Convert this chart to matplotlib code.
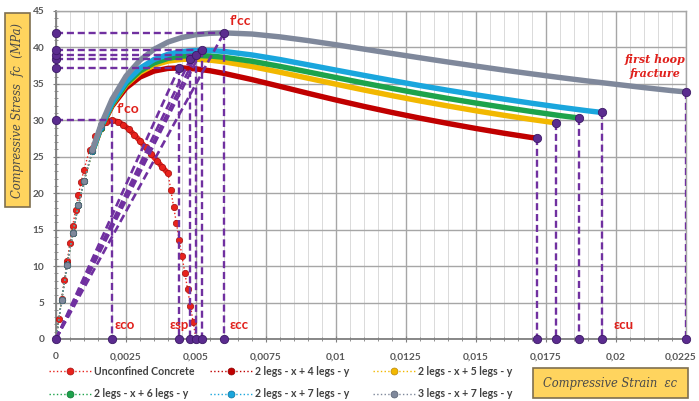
import matplotlib
matplotlib.use("Agg")
import matplotlib.pyplot as plt
from matplotlib.patches import Rectangle
from matplotlib.lines import Line2D
from matplotlib.ticker import MultipleLocator, FixedLocator
from matplotlib.transforms import ScaledTranslation

# ---------------- data ----------------
strain_grid = [0, 0.0002, 0.0004, 0.0006, 0.0008, 0.001, 0.0013, 0.0016, 0.002,
               0.0025, 0.003, 0.0035, 0.004, 0.0045, 0.005, 0.0055, 0.006,
               0.007, 0.008, 0.009, 0.010, 0.011, 0.012, 0.013, 0.014, 0.015,
               0.016, 0.017, 0.018, 0.019, 0.020, 0.021, 0.022]

series_names = ["2 legs - x + 4 legs - y", "2 legs - x + 5 legs - y",
                "2 legs - x + 6 legs - y", "2 legs - x + 7 legs - y",
                "3 legs - x + 7 legs - y"]

stress_4y = [0, 5.34, 10.24, 14.61, 18.42, 21.70, 25.74, 28.88, 31.94, 34.44,
             35.94, 36.76, 37.13, 37.19, 37.06, 36.80, 36.44, 35.59, 34.66,
             33.71, 32.79, 31.91, 31.08, 30.30, 29.57, 28.88, 28.23, 27.63, 27.55]
stress_5y = [0, 5.33, 10.21, 14.56, 18.37, 21.66, 25.74, 28.96, 32.15, 34.86,
             36.56, 37.58, 38.13, 38.37, 38.39, 38.26, 38.03, 37.38, 36.60,
             35.78, 34.96, 34.16, 33.39, 32.66, 31.97, 31.31, 30.69, 30.11, 29.65]
stress_6y = [0, 5.33, 10.20, 14.54, 18.34, 21.63, 25.73, 28.96, 32.21, 34.98,
             36.77, 37.87, 38.50, 38.81, 38.90, 38.83, 38.65, 38.10, 37.40,
             36.64, 35.87, 35.11, 34.38, 33.67, 33.00, 32.37, 31.77, 31.20,
             30.65, 30.32]
stress_7y = [0, 5.33, 10.20, 14.54, 18.35, 21.66, 25.79, 29.07, 32.39, 35.27,
             37.15, 38.34, 39.05, 39.44, 39.59, 39.58, 39.45, 38.97, 38.34,
             37.62, 36.89, 36.17, 35.46, 34.77, 34.12, 33.50, 32.91, 32.34,
             31.80, 31.30, 31.08]
stress_3x7y = [0, 5.32, 10.17, 14.51, 18.34, 21.69, 25.93, 29.34, 32.88, 36.07,
               38.25, 39.74, 40.74, 41.37, 41.75, 41.94, 42.00, 41.84, 41.45,
               40.94, 40.37, 39.77, 39.17, 38.58, 38.00, 37.44, 36.89, 36.37,
               35.87, 35.39, 34.94, 34.49, 34.07, 33.90]

strain_unc = [0, 0.0001, 0.0002, 0.0003, 0.0004, 0.0005, 0.0006, 0.0007, 0.0008,
              0.0009, 0.001, 0.0012, 0.0014, 0.0016, 0.0018, 0.002, 0.0022,
              0.0024, 0.0026, 0.0028, 0.003, 0.0032, 0.0034, 0.0036, 0.0038,
              0.004, 0.0041, 0.0042, 0.0043, 0.0044, 0.0045, 0.0046, 0.0047,
              0.0048, 0.0049, 0.005]
stress_unc = [0, 2.74, 5.45, 8.12, 10.70, 13.19, 15.54, 17.73, 19.76, 21.60,
              23.24, 25.94, 27.88, 29.13, 29.80, 30.00, 29.83, 29.40, 28.77,
              28.01, 27.17, 26.28, 25.38, 24.47, 23.58, 22.71, 20.44, 18.17,
              15.90, 13.63, 11.36, 9.08, 6.81, 4.54, 2.27, 0]

eps_co, f_co = 0.002, 30.0
peak_strain = [0.00439, 0.0048, 0.0050, 0.0052, 0.0060]
peak_stress = [37.2, 38.4, 38.9, 39.6, 42.0]
ult_strain = [0.01718, 0.01785, 0.01868, 0.01949, 0.0225]
ult_stress = [27.55, 29.65, 30.32, 31.08, 33.90]

x_ticks = [0, 0.0025, 0.005, 0.0075, 0.01, 0.0125, 0.015, 0.0175, 0.02, 0.0225]
x_ticklabels = ["0", "0,0025", "0,005", "0,0075", "0,01", "0,0125", "0,015",
                "0,0175", "0,02", "0,0225"]
y_ticks = [0, 5, 10, 15, 20, 25, 30, 35, 40, 45]

# ---------------- style ----------------
colors = ["#C00000", "#F2B800", "#1DA34B", "#1AA6DD", "#7F889B"]
edges = ["#8B0000", "#B8860B", "#0F6E30", "#0E6F98", "#555D6E"]
unc_color, unc_edge = "#E8221C", "#A31010"
purple, purple_mk, purple_edge = "#7030A0", "#5B2C8F", "#3C1A66"
txt_red = "#E0201B"
tick_col = "#595959"
font_main = ["Lato", "DejaVu Sans"]
dash = (0, (3, 1.6))

fig = plt.figure(figsize=(6.99, 4.01), dpi=100)
ax = fig.add_axes([56 / 699, 1 - 339 / 401, 630 / 699, 328 / 401])
ax.set_xlim(0, 0.0225)
ax.set_ylim(0, 45)

# grid
ax.xaxis.set_major_locator(FixedLocator(x_ticks))
ax.xaxis.set_minor_locator(MultipleLocator(0.0005))
ax.yaxis.set_major_locator(FixedLocator(y_ticks))
ax.yaxis.set_minor_locator(MultipleLocator(1))
ax.grid(which="major", color="#A6A6A6", lw=1.0)
ax.grid(which="minor", axis="x", color="#DADADA", lw=0.7)
ax.set_axisbelow(True)
ax.set_xticklabels(x_ticklabels)
for sp in ["top", "right"]:
    ax.spines[sp].set_color("#A6A6A6")
    ax.spines[sp].set_linewidth(1.0)
for sp in ["left", "bottom"]:
    ax.spines[sp].set_color("#7F7F7F")
    ax.spines[sp].set_linewidth(1.3)
ax.tick_params(which="major", direction="inout", length=5, color="#7F7F7F",
               labelsize=7.3, labelcolor=tick_col, pad=6)
ax.tick_params(which="minor", direction="inout", length=3, color="#7F7F7F")
ax.tick_params(axis="x", pad=7)
for lab in ax.get_xticklabels() + ax.get_yticklabels():
    lab.set_fontfamily(font_main)
    lab.set_fontweight("bold")
last = ax.get_xticklabels()[-1]
last.set_transform(last.get_transform() + ScaledTranslation(-4 / 72, 0, fig.dpi_scale_trans))

# unconfined concrete
ax.plot(strain_unc, stress_unc, ls=":", lw=1.0, color=unc_color, zorder=3)
ax.plot(strain_unc[13:26], stress_unc[13:26], ls="-", lw=3.9, color=unc_color,
        solid_capstyle="round", zorder=3)
ax.plot(strain_unc[:-1], stress_unc[:-1], ls="none", marker="o", ms=4.6,
        mfc=unc_color, mec=unc_edge, mew=0.5, zorder=3)

# confined curves
stress_series = [stress_4y, stress_5y, stress_6y, stress_7y, stress_3x7y]
for i, (ys, c, ec, eu) in enumerate(zip(stress_series, colors, edges, ult_strain)):
    xs = [s for s in strain_grid if s < eu] + [eu]
    z = 4 + i
    ax.plot(xs[:8], ys[:8], ls=":", lw=1.0, color=c, zorder=z)
    ax.plot(xs[:8], ys[:8], ls="none", marker="o", ms=4.6, mfc=c, mec=ec,
            mew=0.5, zorder=z)
    ax.plot(xs[6:], ys[6:], ls="-", lw=3.9, color=c, solid_capstyle="round",
            solid_joinstyle="round", zorder=z)

# purple construction lines
def pmark(x, y):
    ax.plot([x], [y], ls="none", marker="o", ms=6, mfc=purple_mk,
            mec=purple_edge, mew=0.6, zorder=12, clip_on=False)

lw_d = 1.7
ax.plot([0, eps_co], [f_co, f_co], ls=dash, color=purple, lw=lw_d, zorder=10)
ax.plot([eps_co, eps_co], [f_co, 0], ls=dash, color=purple, lw=lw_d, zorder=10)
pmark(0, f_co)
pmark(eps_co, 0)
for e, f in zip(peak_strain, peak_stress):
    ax.plot([0, e], [f, f], ls=dash, color=purple, lw=lw_d, zorder=10)
    ax.plot([e, e], [f, 0], ls=dash, color=purple, lw=lw_d, zorder=10)
    ax.plot([0, e], [0, f], ls=dash, color=purple, lw=lw_d + 0.2, zorder=10)
    pmark(0, f)
    pmark(e, 0)
    pmark(e, f)
for e, f in zip(ult_strain, ult_stress):
    ax.plot([e, e], [f, 0], ls=dash, color=purple, lw=lw_d, zorder=10)
    pmark(e, f)
    pmark(e, 0)
pmark(0, 0)

# annotations
ax.text(0.00218, 31.6, "f'co", color=txt_red, fontsize=10, fontweight="bold",
        family=font_main, va="center", ha="left", zorder=13)
ax.text(0.0062, 43.6, "f'cc", color=txt_red, fontsize=10, fontweight="bold",
        family=font_main, va="center", ha="left", zorder=13)
for xx, s in [(0.0021, "εco"), (0.00405, "εsp"), (0.0062, "εcc"), (0.0199, "εcu")]:
    ax.text(xx, 1.9, s, color=txt_red, fontsize=9.5, fontweight="bold",
            family=font_main, va="center", ha="left", zorder=13)
ax.text(0.0214, 37.4, "first hoop\nfracture", color=txt_red, fontsize=8,
        fontweight="bold", style="italic", family="DejaVu Serif",
        ha="center", va="center", linespacing=1.3, zorder=13)

# axis title boxes
fig.patches.append(Rectangle((5 / 699, 1 - 207 / 401), 25 / 699, 194 / 401,
                             transform=fig.transFigure, fc="#FFD45E",
                             ec="#7F6F4F", lw=1.2))
fig.text(17.5 / 699, 1 - 110 / 401, "Compressive Stress  fc  (MPa)", rotation=90,
         ha="center", va="center", fontsize=8.3, style="italic",
         family="DejaVu Serif", color="#4A4A4A")
fig.patches.append(Rectangle((533 / 699, 1 - 398 / 401), 155 / 699, 30 / 401,
                             transform=fig.transFigure, fc="#FFD45E",
                             ec="#7F6F4F", lw=1.2))
fig.text(610.5 / 699, 1 - 383 / 401, "Compressive Strain  εc",
         ha="center", va="center", fontsize=8.3, style="italic",
         family="DejaVu Serif", color="#4A4A4A")

# legend (three columns)
def handle(c, ec):
    return Line2D([], [], ls=":", lw=1.0, color=c, marker="o", ms=5,
                  mfc=c, mec=ec, mew=0.5)

legend_cols = [
    ([handle(unc_color, unc_edge), handle(colors[2], edges[2])],
     ["Unconfined Concrete", series_names[2]], 49),
    ([handle(colors[0], edges[0]), handle(colors[3], edges[3])],
     [series_names[0], series_names[3]], 210),
    ([handle(colors[1], edges[1]), handle(colors[4], edges[4])],
     [series_names[1], series_names[4]], 373),
]
for hs, ls_, xpix in legend_cols:
    lg = fig.legend(hs, ls_, loc="center left",
                    bbox_to_anchor=(xpix / 699, 1 - 382.5 / 401),
                    frameon=False, borderpad=0, borderaxespad=0,
                    handlelength=4.0, handletextpad=0.3, labelspacing=1.1,
                    prop={"family": font_main, "size": 7.6, "weight": "bold"},
                    labelcolor="#404040", numpoints=1)

fig.savefig("out.png", dpi=100)
